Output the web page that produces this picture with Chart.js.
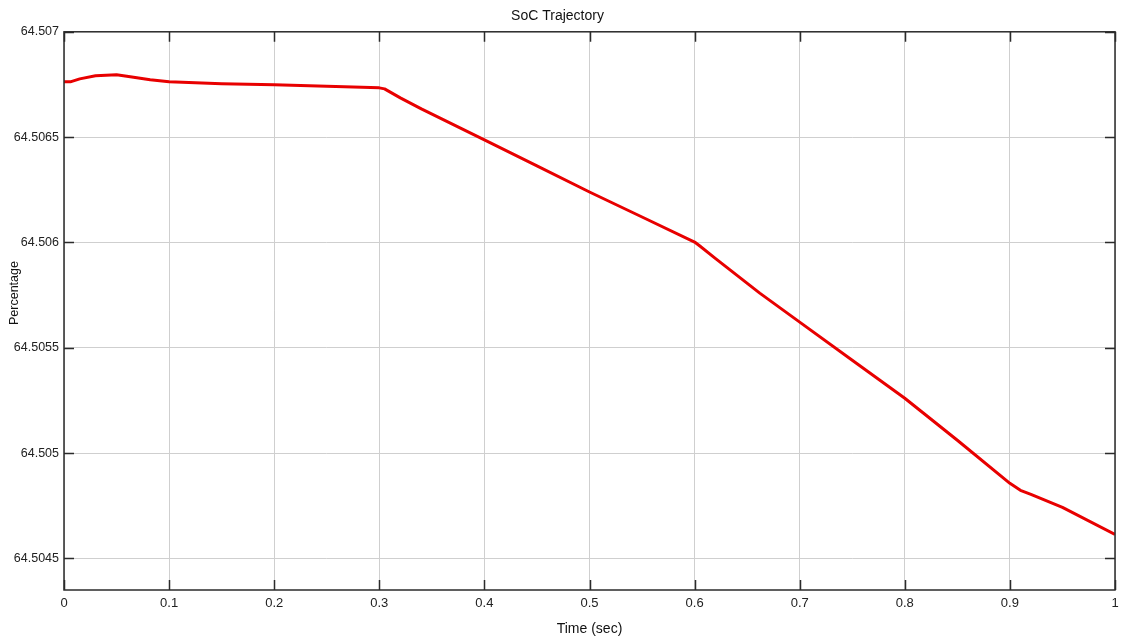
<!DOCTYPE html>
<html>
<head>
<meta charset="utf-8">
<title>SoC Trajectory</title>
<script src="https://cdn.jsdelivr.net/npm/chart.js@4.4.0/dist/chart.umd.min.js"></script>
<style>
  html, body { margin: 0; padding: 0; background: #fff; }
  #wrap { width: 1121px; height: 640px; }
</style>
</head>
<body>
<div id="wrap"><canvas id="socChart" width="1121" height="640"></canvas></div>
<script>
// state of charge samples
var timeSec = [0, 0.006, 0.015, 0.03, 0.05, 0.063, 0.082, 0.1, 0.15, 0.2, 0.25, 0.3, 0.305,
               0.32, 0.34, 0.4, 0.45, 0.5, 0.55, 0.6, 0.605, 0.62, 0.662, 0.7, 0.75, 0.8,
               0.85, 0.9, 0.91, 0.92, 0.95, 1.0];
var socPct = [64.5067624, 64.5067624, 64.5067766, 64.5067909, 64.5067956, 64.5067861,
              64.5067719, 64.5067624, 64.5067529, 64.5067481, 64.5067410, 64.5067338,
              64.5067290, 64.5066863, 64.5066340, 64.5064867, 64.5063631, 64.5062395,
              64.5061207, 64.5060019, 64.5059829, 64.5059235, 64.5057595, 64.5056217,
              64.5054410, 64.5052605, 64.5050608, 64.5048565, 64.5048232, 64.5048042,
              64.5047424, 64.5046141];

var xTicks = [0, 0.1, 0.2, 0.3, 0.4, 0.5, 0.6, 0.7, 0.8, 0.9, 1];
var xTickLabels = ['0', '0.1', '0.2', '0.3', '0.4', '0.5', '0.6', '0.7', '0.8', '0.9', '1'];
var yTicks = [64.5045, 64.505, 64.5055, 64.506, 64.5065, 64.507];
var yTickLabels = ['64.5045', '64.505', '64.5055', '64.506', '64.5065', '64.507'];
var yTitle = 'Percentage';

var points = timeSec.map(function (t, i) { return { x: t, y: socPct[i] }; });

// inward tick marks, box edges and the y axis caption
var boxTicks = {
    id: 'boxTicks',
    afterDraw: function (chart) {
        var c = chart.ctx, a = chart.chartArea;
        var xs = chart.scales.x, ys = chart.scales.y;
        c.save();
        c.strokeStyle = '#2b2b2b';
        c.lineWidth = 1.5;
        c.beginPath();
        xTicks.forEach(function (v) {
            var px = Math.round(xs.getPixelForValue(v)) + 0.5;
            c.moveTo(px, a.bottom); c.lineTo(px, a.bottom - 10);
            c.moveTo(px, a.top); c.lineTo(px, a.top + 10);
        });
        yTicks.forEach(function (v) {
            var py = Math.round(ys.getPixelForValue(v)) + 0.5;
            c.moveTo(a.left, py); c.lineTo(a.left + 10, py);
            c.moveTo(a.right, py); c.lineTo(a.right - 10, py);
        });
        c.stroke();
        c.strokeRect(a.left, a.top, a.right - a.left, a.bottom - a.top);

        // caption sits a bit above the middle, between two tick labels
        c.translate(15, a.top + (a.bottom - a.top) * 0.468);
        c.rotate(-Math.PI / 2);
        c.fillStyle = '#111';
        c.font = '12.5px "Liberation Sans", Arial, sans-serif';
        c.textAlign = 'center';
        c.textBaseline = 'middle';
        c.fillText(yTitle, 0, 0);
        c.restore();
    }
};

Chart.defaults.font.family = '"Liberation Sans", Arial, sans-serif';
Chart.defaults.color = '#222';

var ctx = document.getElementById('socChart');
var socChart = new Chart(ctx, {
    type: 'line',
    data: {
        datasets: [{
            label: 'SoC',
            data: points,
            borderColor: '#e80000',
            borderWidth: 3,
            pointRadius: 0,
            tension: 0,
            borderJoinStyle: 'round',
            fill: false
        }]
    },
    options: {
        responsive: false,
        animation: false,
        layout: { padding: { top: 0, right: 6, bottom: 0, left: 0 } },
        plugins: {
            legend: { display: false },
            tooltip: { enabled: false },
            title: {
                display: true,
                text: 'SoC Trajectory',
                color: '#111',
                font: { size: 14, weight: 'normal' },
                padding: { top: 8, bottom: 7 }
            }
        },
        scales: {
            x: {
                type: 'linear',
                min: 0,
                max: 1,
                afterBuildTicks: function (scale) {
                    scale.ticks = xTicks.map(function (v) { return { value: v }; });
                },
                afterFit: function (scale) {
                    scale.height = 50;
                    scale.paddingRight = 0;
                },
                ticks: {
                    callback: function (v, i) { return xTickLabels[i]; },
                    font: { size: 13 },
                    color: '#222',
                    padding: 6,
                    maxRotation: 0
                },
                grid: { color: '#cfcfcf', lineWidth: 1, drawTicks: false },
                border: { display: false },
                title: {
                    display: true,
                    text: 'Time (sec)',
                    font: { size: 14 },
                    color: '#111',
                    padding: { top: 8, bottom: 2 }
                }
            },
            y: {
                type: 'linear',
                min: 64.50435,
                max: 64.507,
                afterBuildTicks: function (scale) {
                    scale.ticks = yTicks.map(function (v) { return { value: v }; });
                },
                afterFit: function (scale) { scale.width = 64; },
                ticks: {
                    callback: function (v, i) { return yTickLabels[i]; },
                    font: { size: 12.5 },
                    color: '#222',
                    padding: 5
                },
                grid: { color: '#cfcfcf', lineWidth: 1, drawTicks: false },
                border: { display: false }
            }
        }
    },
    plugins: [boxTicks]
});
</script>
</body>
</html>
